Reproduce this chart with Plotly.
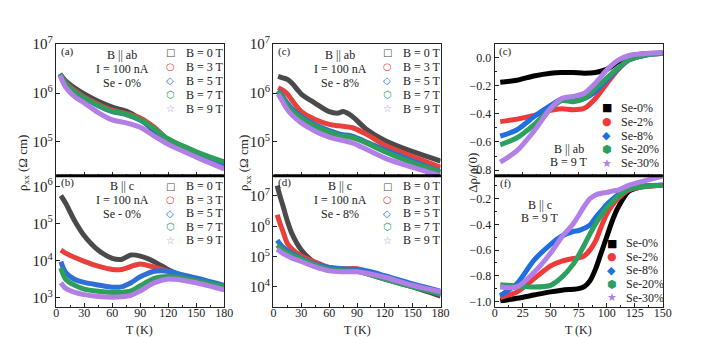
import numpy as np
import plotly.graph_objects as go

W, H = 706, 337

# ---------------- data (rho in log10(Ohm cm) for a-d, Delta rho / rho(0) for e-f) ----------------
fields = ["B = 0 T", "B = 3 T", "B = 5 T", "B = 7 T", "B = 9 T"]
dopings = ["Se-0%", "Se-2%", "Se-8%", "Se-20%", "Se-30%"]

# (a) B || ab, Se-0%
T_a = [4, 10, 20, 30, 45, 60, 75, 90, 105, 120, 150, 180]
a_0T = [6.39, 6.25, 6.10, 5.98, 5.83, 5.71, 5.63, 5.47, 5.22, 5.02, 4.72, 4.48]
a_3T = [6.39, 6.22, 6.05, 5.92, 5.77, 5.65, 5.58, 5.49, 5.30, 5.05, 4.77, 4.55]
a_5T = [6.39, 6.20, 6.02, 5.90, 5.74, 5.62, 5.56, 5.44, 5.25, 5.03, 4.77, 4.55]
a_7T = [6.39, 6.20, 6.02, 5.90, 5.75, 5.63, 5.57, 5.46, 5.27, 5.06, 4.80, 4.59]
a_9T = [6.36, 6.12, 5.92, 5.80, 5.60, 5.45, 5.39, 5.30, 5.12, 4.95, 4.69, 4.45]

# (b) B || c, Se-0%
T_b = [5, 10, 20, 30, 45, 60, 70, 80, 90, 105, 120, 135, 150, 180]
b_0T = [5.75, 5.55, 5.06, 4.67, 4.28, 4.06, 4.03, 4.15, 4.12, 3.97, 3.75, 3.58, 3.45, 3.31]
b_3T = [4.28, 4.20, 4.08, 3.98, 3.85, 3.76, 3.76, 3.84, 3.91, 3.82, 3.71, 3.58, 3.47, 3.31]
b_5T = [3.97, 3.68, 3.49, 3.41, 3.34, 3.28, 3.29, 3.40, 3.56, 3.71, 3.71, 3.62, 3.53, 3.33]
b_7T = [3.80, 3.50, 3.33, 3.23, 3.17, 3.14, 3.14, 3.18, 3.32, 3.52, 3.57, 3.53, 3.45, 3.30]
b_9T = [3.40, 3.25, 3.14, 3.08, 3.03, 3.01, 3.02, 3.06, 3.18, 3.40, 3.50, 3.47, 3.40, 3.21]

# (c) B || ab, Se-8%
T_c = [5, 10, 15, 20, 30, 45, 60, 70, 75, 85, 100, 120, 150, 180]
c_0T = [6.34, 6.31, 6.28, 6.20, 5.98, 5.79, 5.62, 5.59, 5.62, 5.52, 5.26, 5.03, 4.80, 4.61]
c_3T = [6.11, 6.06, 5.98, 5.85, 5.62, 5.46, 5.36, 5.33, 5.32, 5.29, 5.16, 4.93, 4.70, 4.48]
c_5T = [6.05, 5.93, 5.79, 5.68, 5.52, 5.35, 5.23, 5.17, 5.15, 5.12, 5.00, 4.84, 4.61, 4.39]
c_7T = [6.03, 5.90, 5.74, 5.64, 5.49, 5.32, 5.20, 5.14, 5.12, 5.09, 4.98, 4.80, 4.57, 4.38]
c_9T = [5.98, 5.82, 5.66, 5.55, 5.39, 5.22, 5.10, 5.05, 5.03, 4.98, 4.85, 4.67, 4.48, 4.31]

# (d) B || c, Se-8%
T_d = [4, 7, 10, 15, 20, 30, 45, 60, 75, 90, 105, 120, 150, 180]
d_0T = [7.34, 7.00, 6.70, 6.17, 5.75, 5.22, 4.79, 4.60, 4.58, 4.53, 4.40, 4.26, 4.00, 3.70]
d_3T = [6.38, 6.10, 5.85, 5.43, 5.25, 5.02, 4.82, 4.64, 4.60, 4.60, 4.45, 4.32, 4.05, 3.79]
d_5T = [5.54, 5.42, 5.32, 5.20, 5.11, 4.95, 4.75, 4.64, 4.60, 4.58, 4.50, 4.37, 4.10, 3.86]
d_7T = [5.38, 5.30, 5.22, 5.13, 5.06, 4.92, 4.72, 4.58, 4.53, 4.52, 4.40, 4.26, 4.00, 3.76]
d_9T = [5.24, 5.17, 5.11, 5.03, 4.95, 4.84, 4.66, 4.53, 4.50, 4.50, 4.42, 4.32, 4.05, 3.84]

# (e) B || ab, B = 9 T
T_e = [5, 20, 35, 50, 60, 70, 80, 90, 100, 110, 120, 135, 150]
e_se0 = [-0.175, -0.160, -0.130, -0.110, -0.105, -0.105, -0.110, -0.105, -0.083, -0.030, 0.010, 0.028, 0.032]
e_se2 = [-0.455, -0.437, -0.410, -0.375, -0.363, -0.370, -0.360, -0.290, -0.185, -0.085, -0.015, 0.020, 0.032]
e_se8 = [-0.559, -0.513, -0.420, -0.340, -0.294, -0.305, -0.290, -0.240, -0.160, -0.080, -0.015, 0.020, 0.032]
e_se20 = [-0.620, -0.570, -0.478, -0.363, -0.306, -0.313, -0.290, -0.220, -0.145, -0.075, -0.015, 0.020, 0.032]
e_se30 = [-0.743, -0.662, -0.524, -0.360, -0.290, -0.276, -0.253, -0.180, -0.087, -0.018, 0.016, 0.030, 0.039]

# (f) B || c, B = 9 T
T_f = [5, 20, 35, 50, 60, 70, 75, 80, 85, 90, 95, 100, 105, 110, 120, 135, 150]
f_se0 = [-0.995, -0.975, -0.950, -0.925, -0.912, -0.905, -0.900, -0.885, -0.840, -0.748, -0.623, -0.497, -0.371, -0.270, -0.140, -0.100, -0.094]
f_se2 = [-0.970, -0.925, -0.824, -0.723, -0.686, -0.665, -0.660, -0.645, -0.600, -0.530, -0.420, -0.320, -0.250, -0.200, -0.132, -0.105, -0.094]
f_se8 = [-0.955, -0.860, -0.680, -0.555, -0.490, -0.455, -0.447, -0.430, -0.405, -0.346, -0.295, -0.245, -0.205, -0.170, -0.120, -0.100, -0.094]
f_se20 = [-0.869, -0.879, -0.887, -0.874, -0.811, -0.711, -0.640, -0.560, -0.475, -0.396, -0.330, -0.270, -0.225, -0.182, -0.125, -0.100, -0.094]
f_se30 = [-0.887, -0.887, -0.775, -0.623, -0.497, -0.396, -0.330, -0.258, -0.200, -0.170, -0.158, -0.150, -0.140, -0.132, -0.094, -0.057, -0.024]

x_ticks_rho = [0, 30, 60, 90, 120, 150, 180]
x_ticks_drho = [0, 25, 50, 75, 100, 125, 150]

# ---------------- styles ----------------
field_colors = ["#4a4a4a", "#e8413c", "#2f6fd6", "#2e9e5b", "#b27fe6"]
dop_colors = ["#000000", "#f03a3a", "#1f6fe0", "#2ca05f", "#b27fe8"]
open_glyphs = ["□", "○", "◇", "⬡", "☆"]
fill_glyphs = ["■", "●", "◆", "⬢", "★"]
SERIF = "Liberation Serif, Times New Roman, serif"
INK = "#222222"

fig = go.Figure()


def add(xa, ya, T, vals, color, log=True):
    y = (10 ** np.array(vals)) if log else vals
    fig.add_trace(go.Scatter(x=T, y=y, xaxis=xa, yaxis=ya, mode="lines",
                             line=dict(color=color, width=5, shape="spline", smoothing=0.8),
                             showlegend=False, hoverinfo="skip"))


for xa, ya, T, series in [
    ("x", "y", T_a, [a_0T, a_3T, a_5T, a_7T, a_9T]),
    ("x2", "y2", T_b, [b_0T, b_3T, b_5T, b_7T, b_9T]),
    ("x3", "y3", T_c, [c_0T, c_3T, c_5T, c_7T, c_9T]),
    ("x4", "y4", T_d, [d_0T, d_3T, d_5T, d_7T, d_9T]),
]:
    for s, col in zip(series, field_colors):
        add(xa, ya, T, s, col, log=True)

for xa, ya, T, series in [
    ("x5", "y5", T_e, [e_se0, e_se2, e_se8, e_se20, e_se30]),
    ("x6", "y6", T_f, [f_se0, f_se2, f_se8, f_se20, f_se30]),
]:
    for s, col in zip(series, dop_colors):
        add(xa, ya, T, s, col, log=False)

# ---------------- axes ----------------
cols = [[46 / W, 217 / W], [267 / W, 437 / W], [492 / W, 663 / W]]
top = [1 - 163 / H, 1 - 27 / H]
bot = [1 - 299 / H, 1 - 163 / H]

base = dict(showline=True, mirror=True, linecolor=INK, linewidth=1, ticks="inside", ticklen=4,
            tickcolor=INK, showgrid=False, zeroline=False,
            tickfont=dict(family=SERIF, size=12, color=INK))


def xax(dom, anchor, rng, tickvals, labels):
    d = dict(base, domain=dom, anchor=anchor, range=rng, tickvals=tickvals,
             showticklabels=labels, ticklabelstandoff=-6,
             minor=dict(ticks="inside", ticklen=2, tickcolor=INK,
                        dtick=(tickvals[1] - tickvals[0]) / 2, tick0=0))
    return d


def ylog(dom, anchor, rng):
    return dict(base, domain=dom, anchor=anchor, type="log", range=rng, dtick=1,
                exponentformat="power", showexponent="all")


def ylin(dom, anchor, rng):
    return dict(base, domain=dom, anchor=anchor, range=rng, dtick=0.2, tickformat=".1f",
                minor=dict(ticks="inside", ticklen=2, tickcolor=INK, dtick=0.1))


fig.update_layout(
    xaxis=xax(cols[0], "y", [0, 180], x_ticks_rho, False),
    yaxis=ylog(top, "x", [4.31, 7.0]),
    xaxis2=xax(cols[0], "y2", [0, 180], x_ticks_rho, True),
    yaxis2=ylog(bot, "x2", [2.74, 6.29]),
    xaxis3=xax(cols[1], "y3", [0, 180], x_ticks_rho, False),
    yaxis3=ylog(top, "x3", [4.31, 7.0]),
    xaxis4=xax(cols[1], "y4", [0, 180], x_ticks_rho, True),
    yaxis4=ylog(bot, "x4", [3.33, 7.67]),
    xaxis5=xax(cols[2], "y5", [0, 150], x_ticks_drho, False),
    yaxis5=ylin(top, "x5", [-0.84, 0.097]),
    xaxis6=xax(cols[2], "y6", [0, 150], x_ticks_drho, True),
    yaxis6=ylin(bot, "x6", [-1.045, -0.02]),
)

# thick separators between the upper and lower panels
for c in cols:
    fig.add_shape(type="line", xref="paper", yref="paper", x0=c[0], x1=c[1],
                  y0=1 - 163 / H, y1=1 - 163 / H, line=dict(color="#000000", width=3))

# ---------------- text ----------------
ann = []


def P(px, py):
    return px / W, 1 - py / H


def text(px, py, s, size=12, color=INK, xanchor="center", family=SERIF, angle=0):
    x, y = P(px, py)
    ann.append(dict(x=x, y=y, xref="paper", yref="paper", text=s, showarrow=False,
                    xanchor=xanchor, yanchor="middle", textangle=angle,
                    font=dict(family=family, size=size, color=color)))


# panel letters
for px, py, s in [(57, 35, "(a)"), (57, 170, "(b)"), (278, 35, "(c)"), (278, 170, "(d)"),
                  (503, 35, "(c)"), (503, 171, "(f)")]:
    text(px, py, s, size=11)

# condition labels
for cx, y0, lines in [(113, 38, ["B || ab", "I = 100 nA", "Se - 0%"]),
                      (113, 174, ["B || c", "I = 100 nA", "Se - 0%"]),
                      (335, 38, ["B || ab", "I = 100 nA", "Se - 8%"]),
                      (335, 174, ["B || c", "I = 100 nA", "Se - 8%"])]:
    for i, s in enumerate(lines):
        text(cx, y0 + i * 14.5, s)
for cx, y0, lines in [(568, 135, ["B || ab", "B = 9 T"]), (538, 193, ["B || c", "B = 9 T"])]:
    for i, s in enumerate(lines):
        text(cx, y0 + i * 13.5, s)

# legends (glyph + label)
for sx, y0, dy in [(162, 36, 14.5), (162, 174, 14), (383, 36, 14.5), (383, 174, 14)]:
    for i, lab in enumerate(fields):
        text(sx, y0 + i * dy, open_glyphs[i], size=10, color=field_colors[i],
             family="DejaVu Sans")
        text(sx + 14, y0 + i * dy, lab, xanchor="left")
for sx, y0, dy in [(606, 93, 14.3), (611, 233, 14)]:
    for i, lab in enumerate(dopings):
        text(sx, y0 + i * dy, fill_glyphs[i], size=11, color=dop_colors[i],
             family="DejaVu Sans")
        text(sx + 13, y0 + i * dy, lab, xanchor="left")

# axis titles
text(12, 150, "ρ<sub>xx</sub> (Ω cm)", size=13, angle=-90)
text(237, 150, "ρ<sub>xx</sub> (Ω cm)", size=13, angle=-90)
text(470, 160, "Δρ/ρ(0)", size=13, angle=-90)
text(131, 323, "T (K)", size=12)
text(352, 323, "T (K)", size=12)
text(577, 323, "T (K)", size=12)

fig.update_layout(annotations=ann, width=W, height=H, margin=dict(l=0, r=0, t=0, b=0),
                  paper_bgcolor="white", plot_bgcolor="white", showlegend=False)

fig.write_html("out.html")
